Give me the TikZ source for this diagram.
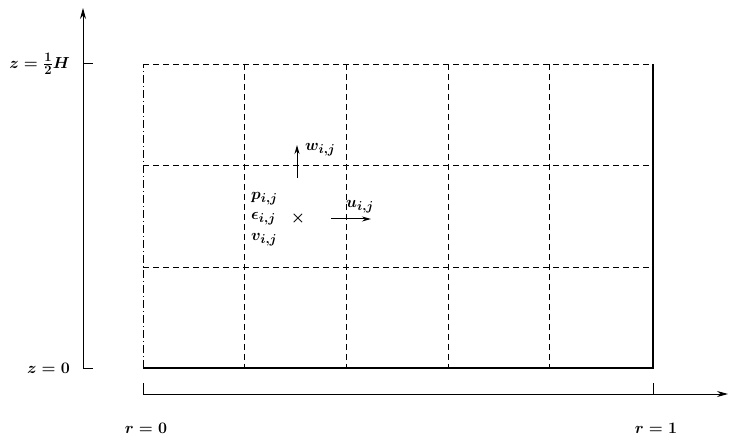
\documentclass[tikz,border=0pt]{standalone}
\usepackage{fix-cm}
\DeclareMathSizes{16}{16}{13}{10}
\usetikzlibrary{arrows.meta}
\begin{document}
\begin{tikzpicture}[x=1pt,y=-1pt,
  lbl/.style={inner sep=0pt,font=\fontsize{16}{19}\selectfont\boldmath},
  grid/.style={line width=0.8pt,dash pattern=on 6pt off 4pt},
  dashdot/.style={line width=0.8pt,dash pattern=on 8pt off 3pt on 1pt off 3pt},
  solidline/.style={line width=1.3pt},
  axis/.style={line width=1pt},
  tip/.style={-{Stealth[length=11pt,width=6pt]}},
  smalltip/.style={-{Stealth[length=9pt,width=5pt]}}]
\useasboundingbox (0,0) rectangle (731,446);
% box corners
\coordinate (bl) at (143,368);
\coordinate (br) at (653,368);
\coordinate (tl) at (143,64);
\coordinate (tr) at (653,64);
% outer box
\draw[dashdot] (bl) -- (tl);
\draw[grid] (tl) -- (tr);
\draw[solidline] (tr) -- (br) -- (bl);
% grid lines
\foreach \x/\n in {244/a,346/b,448/c,549/d} {
  \coordinate (v\n t) at (\x,64);
  \coordinate (v\n b) at (\x,368);
  \draw[grid] (v\n t) -- (v\n b);
}
\foreach \y/\n in {165/a,267/b} {
  \coordinate (h\n l) at (143,\y);
  \coordinate (h\n r) at (653,\y);
  \draw[grid] (h\n l) -- (h\n r);
}
% z axis
\coordinate (z0) at (83,368);
\coordinate (ztop) at (83,8);
\coordinate (zh) at (83,64);
\coordinate (zhr) at (93,64);
\coordinate (z0r) at (93,368);
\draw[axis,tip] (z0) -- (ztop);
\draw[axis] (zh) -- (zhr);
\draw[axis] (z0) -- (z0r);
\node[lbl,anchor=east] (zhl) at (70,64) {$z=\frac{1}{2}H$};
\node[lbl,anchor=east] (z0l) at (70,368) {$z=0$};
% r axis
\coordinate (r0) at (143,394);
\coordinate (rend) at (728,394);
\coordinate (r0t) at (143,383);
\coordinate (r1) at (653,394);
\coordinate (r1t) at (653,383);
\draw[axis,tip] (r0) -- (rend);
\draw[axis] (r0) -- (r0t);
\draw[axis] (r1) -- (r1t);
\node[lbl] (r0l) at (146,428) {$r=0$};
\node[lbl] (r1l) at (656,428) {$r=1$};
% cell variables
\coordinate (ws) at (297,178);
\coordinate (we) at (297,145);
\draw[axis,smalltip] (ws) -- (we);
\node[lbl,anchor=west] (wl) at (305,150) {$w_{i,j}$};
\node[lbl] (cross) at (298,219) {$\times$};
\coordinate (us) at (331,219);
\coordinate (ue) at (371,219);
\draw[axis,smalltip] (us) -- (ue);
\node[lbl,anchor=west] (ul) at (346,207) {$u_{i,j}$};
\node[lbl,anchor=west] (pl) at (251,199) {$p_{i,j}$};
\node[lbl,anchor=west] (el) at (251,219) {$\epsilon_{i,j}$};
\node[lbl,anchor=west] (vl) at (251,240) {$v_{i,j}$};
\end{tikzpicture}
\end{document}
